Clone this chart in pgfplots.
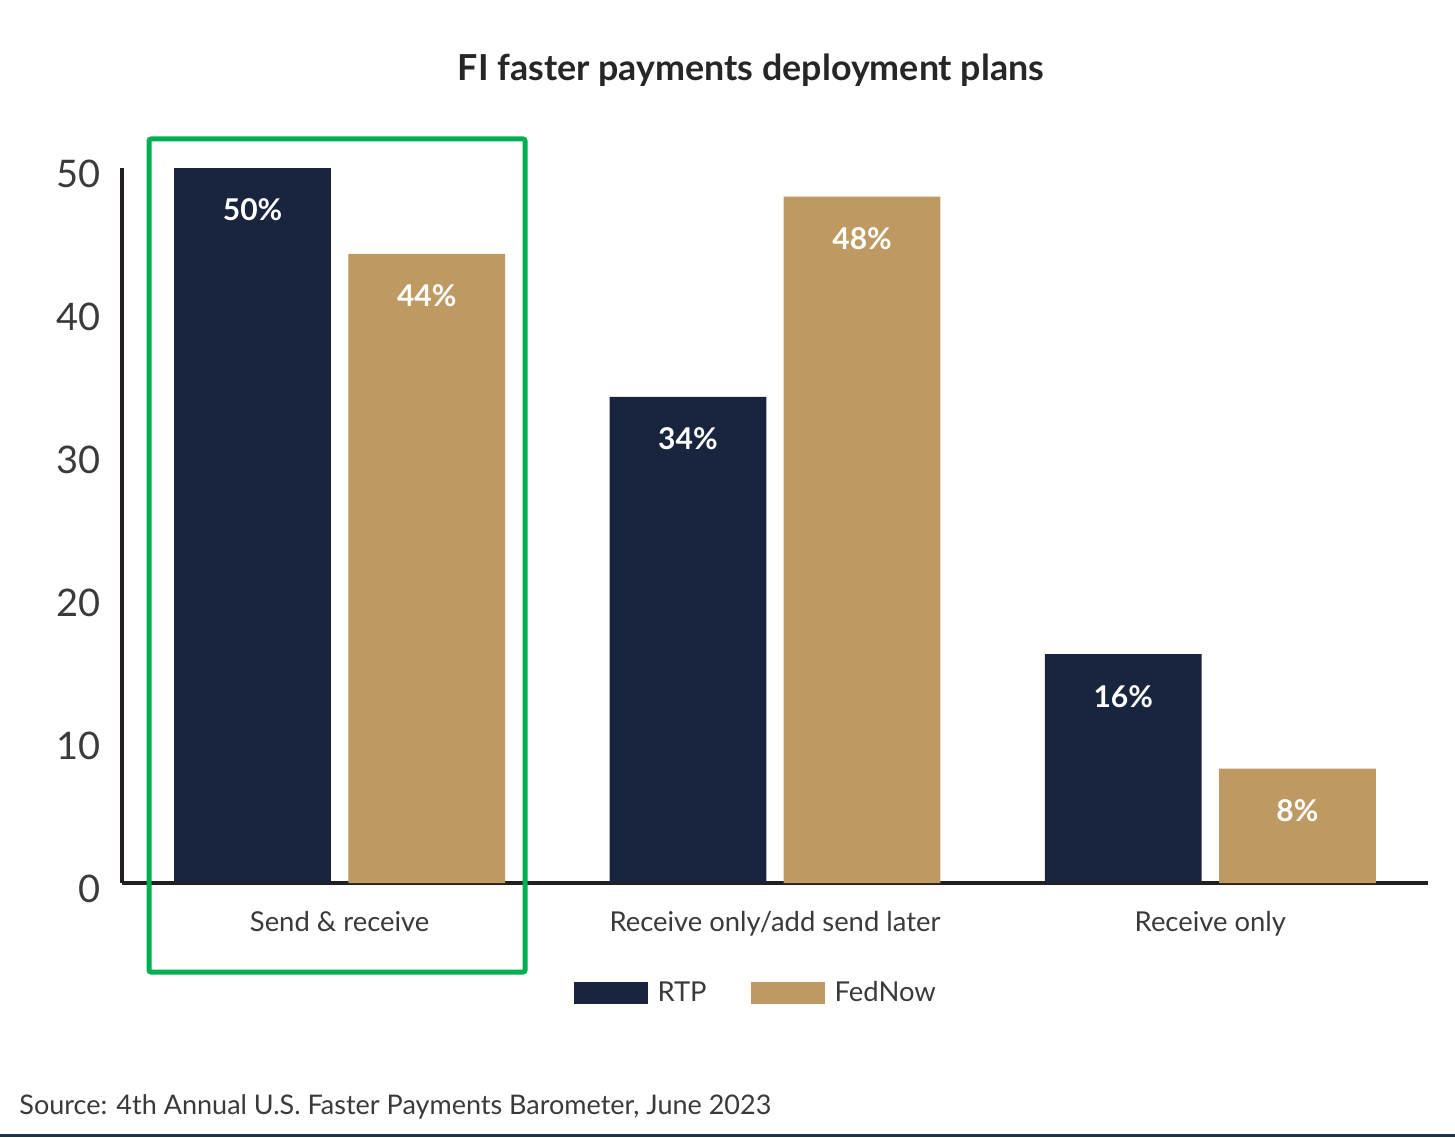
\documentclass[border=0pt]{standalone}
\usepackage{fontspec}
\setmainfont{Lato}
\usepackage{pgfplots}
\pgfplotsset{compat=1.18}
\definecolor{navy}{HTML}{19243E}
\definecolor{gold}{HTML}{BE9A62}
\definecolor{grn}{HTML}{00B050}
\definecolor{axc}{HTML}{231F20}
\definecolor{txt}{HTML}{3A3A3A}
\definecolor{botline}{HTML}{1F3552}
\begin{document}
\begin{tikzpicture}
\path[use as bounding box] (-61pt,-127pt) rectangle (666.5pt,441.5pt);
\begin{axis}[
  at={(0pt,0pt)}, anchor=south west,
  scale only axis, width=653pt, height=357.5pt,
  xmin=-0.5, xmax=2.5, ymin=0, ymax=50,
  clip=false,
  /pgf/number format/assume math mode=true,
  axis x line*=bottom, axis y line*=left,
  axis line style={line width=2pt, color=axc, -},
  ybar, bar width=0.36,
  xtick={0,1,2},
  xticklabels={Send \& receive, Receive only/add send later, Receive only},
  ytick={0,10,...,50},
  major tick length=0pt,
  yticklabel style={font=\fontsize{19}{19}\selectfont, text=txt, anchor=east, inner sep=0pt, xshift=-10.5pt, yshift=-3pt},
  xticklabel style={font=\fontsize{13.7}{13.7}\selectfont, text=txt, anchor=base, inner sep=0pt, yshift=-24pt},
  nodes near coords={\pgfmathprintnumber{\pgfplotspointmeta}\%},
  every node near coord/.append style={anchor=center, yshift=-21pt, font=\bfseries\fontsize{15}{15}\selectfont, text=white},
  legend columns=2,
  legend style={at={(0.486,-0.154)}, anchor=center, draw=none, fill=none,
    font=\fontsize{13.7}{13.7}\selectfont, text=txt,
    /tikz/every even column/.append style={column sep=20pt},
    /tikz/every odd column/.append style={column sep=3pt}},
  legend cell align=left,
  legend image code/.code={\fill[#1] (0pt,-5.5pt) rectangle (37pt,5.5pt);},
]
\addplot[fill=navy, draw=none, bar shift=-0.2] coordinates {(0,50) (1,34) (2,16)};
\addlegendentry{RTP}
\addplot[fill=gold, draw=none, bar shift=0.2] coordinates {(0,44) (1,48) (2,8)};
\addlegendentry{FedNow}
\end{axis}
\draw[grn, line width=2.5pt, rounded corners=1pt] (13.5pt,372pt) rectangle (201.5pt,-44.5pt);
\node[font=\bfseries\fontsize{17.9}{17.9}\selectfont, text=black!85] at (314.5pt,406.5pt) {FI faster payments deployment plans};
\node[anchor=base west, inner sep=0pt, font=\fontsize{13.5}{13.5}\selectfont, text=txt] at (-51.5pt,-115.5pt) {Source: 4th Annual U.S. Faster Payments Barometer, June 2023};
\fill[botline] (-61pt,-127pt) rectangle (666.5pt,-125.5pt);
\end{tikzpicture}
\end{document}
